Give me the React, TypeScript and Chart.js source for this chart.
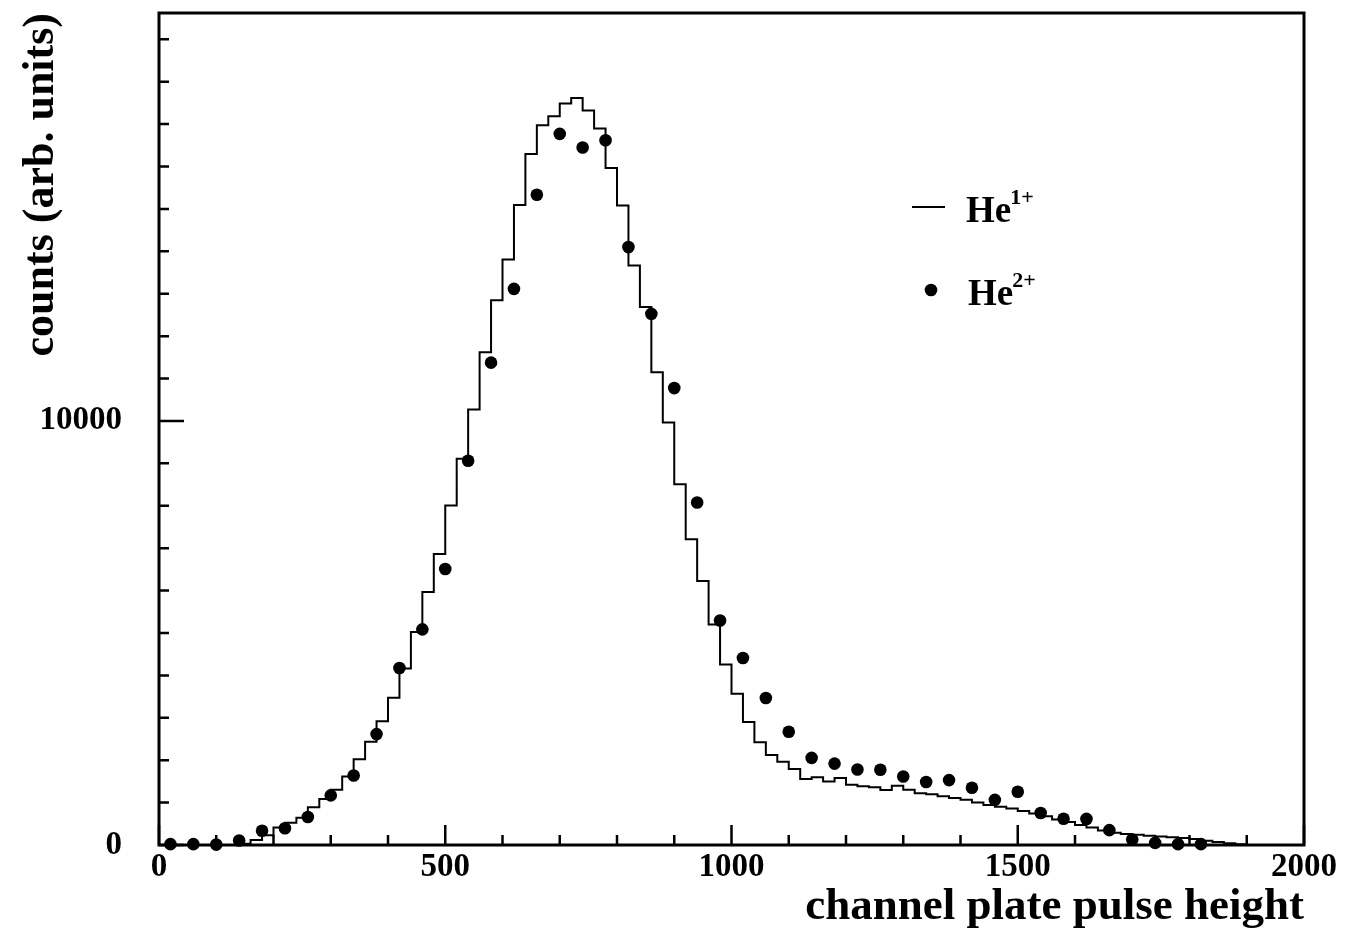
import React, { useEffect, useRef } from 'react';
import { Chart, registerables } from 'chart.js';

Chart.register(...registerables);

// ---- data ----
const BIN_WIDTH = 20; // He1+ histogram bin width (channels)
const he1Counts = [
  0, 0, 0, 0, 0, 0, 0, 30, 120, 230,
  410, 525, 640, 890, 1085, 1305, 1615, 2020, 2435, 2920,
  3470, 4160, 5020, 5965, 6865, 8005, 9110, 10270, 11620, 12845,
  13805, 15095, 16295, 16975, 17185, 17485, 17615, 17320, 16895, 15965,
  15080, 13665, 12685, 11150, 9965, 8510, 7210, 6225, 5200, 4255,
  3565, 2900, 2425, 2125, 1965, 1790, 1555, 1600, 1500, 1580,
  1420, 1385, 1360, 1295, 1395, 1300, 1220, 1195, 1150, 1110,
  1070, 1000, 945, 900, 860, 800, 740, 680, 600, 540,
  470, 410, 340, 290, 260, 240, 220, 200, 185, 165,
  140, 100, 70, 40, 15, 0, 0, 0, 0, 0,
];
const he2Channels = [
  20, 60, 100, 140, 180, 220, 260, 300, 340, 380,
  420, 460, 500, 540, 580, 620, 660, 700, 740, 780,
  820, 860, 900, 940, 980, 1020, 1060, 1100, 1140, 1180,
  1220, 1260, 1300, 1340, 1380, 1420, 1460, 1500, 1540, 1580,
  1620, 1660, 1700, 1740, 1780, 1820,
];
const he2Counts = [
  20, 20, 10, 105, 335, 395, 660, 1170, 1640, 2615,
  4175, 5085, 6510, 9060, 11375, 13115, 15335, 16770, 16450, 16620,
  14100, 12525, 10775, 8075, 5295, 4410, 3465, 2670, 2055, 1920,
  1780, 1775, 1615, 1485, 1530, 1350, 1065, 1255, 755, 620,
  615, 350, 130, 50, 20, 20,
];
const seriesNames = ['He', 'He'];
const seriesCharges = ['1+', '2+'];
const xTickValues = [
  0, 100, 200, 300, 400, 500, 600, 700, 800, 900, 1000,
  1100, 1200, 1300, 1400, 1500, 1600, 1700, 1800, 1900, 2000,
];
const yTickValues = [
  0, 1000, 2000, 3000, 4000, 5000, 6000, 7000, 8000, 9000, 10000,
  11000, 12000, 13000, 14000, 15000, 16000, 17000, 18000, 19000,
];
const xLabeledTicks = [0, 500, 1000, 1500, 2000];
const yLabeledTicks = [0, 10000];
const xTitle = 'channel plate pulse height';
const yTitle = 'counts (arb. units)';

const X_MIN = 0;
const X_MAX = 2000;
const Y_MIN = 0;
const Y_MAX = 19620;

const SERIF = "'Liberation Serif', 'Times New Roman', serif";

const framePlugin = {
  id: 'frameTicks',
  beforeDatasetsDraw(chart: any) {
    const { ctx, chartArea: a, scales } = chart;
    const xs = scales.x;
    const ys = scales.y;
    ctx.save();
    ctx.strokeStyle = '#000';
    ctx.lineWidth = 3;
    ctx.strokeRect(a.left, a.top, a.right - a.left, a.bottom - a.top);
    ctx.lineWidth = 2.5;
    ctx.beginPath();
    xs.ticks.forEach((t: any) => {
      const px = xs.getPixelForValue(t.value);
      const len = t.value % 500 === 0 ? 20 : 10;
      ctx.moveTo(px, a.bottom);
      ctx.lineTo(px, a.bottom - len);
    });
    ys.ticks.forEach((t: any) => {
      const py = ys.getPixelForValue(t.value);
      const len = t.value % 10000 === 0 ? 25 : 10;
      ctx.moveTo(a.left, py);
      ctx.lineTo(a.left + len, py);
    });
    ctx.stroke();
    ctx.restore();
  },
};

const legendPlugin = {
  id: 'supLegend',
  afterDraw(chart: any) {
    const { ctx, chartArea: a } = chart;
    ctx.save();
    ctx.fillStyle = '#000';
    ctx.strokeStyle = '#000';
    ctx.textBaseline = 'alphabetic';
    ctx.textAlign = 'left';
    [0, 1].forEach((i) => {
      const rowY = a.top + 194 + i * 83;
      const textX = a.left + 807 + i * 2;
      if (i === 0) {
        ctx.lineWidth = 2;
        ctx.beginPath();
        ctx.moveTo(a.left + 753, rowY);
        ctx.lineTo(a.left + 786, rowY);
        ctx.stroke();
      } else {
        ctx.beginPath();
        ctx.arc(a.left + 772, rowY, 6.3, 0, Math.PI * 2);
        ctx.fill();
      }
      ctx.font = `bold 37px ${SERIF}`;
      ctx.fillText(seriesNames[i], textX, rowY + 15);
      const w = ctx.measureText(seriesNames[i]).width;
      ctx.font = `bold 22px ${SERIF}`;
      ctx.fillText(seriesCharges[i], textX + w - 1, rowY - 3);
    });
    ctx.restore();
  },
};

export default function App() {
  const canvasRef = useRef<HTMLCanvasElement | null>(null);

  useEffect(() => {
    const canvas = canvasRef.current;
    if (!canvas) return;
    const histData = he1Counts.map((v, i) => ({ x: i * BIN_WIDTH, y: v }));
    histData.push({ x: he1Counts.length * BIN_WIDTH, y: 0 });
    const pointData = he2Channels.map((c, i) => ({ x: c, y: he2Counts[i] }));

    const chart = new Chart(canvas, {
      type: 'line',
      data: {
        datasets: [
          {
            label: 'He1+',
            data: histData,
            stepped: true,
            borderColor: '#000',
            borderWidth: 2,
            pointRadius: 0,
            fill: false,
          },
          {
            label: 'He2+',
            data: pointData,
            showLine: false,
            pointRadius: 6.3,
            pointBackgroundColor: '#000',
            pointBorderColor: '#000',
            pointBorderWidth: 0,
            clip: false,
          },
        ],
      },
      options: {
        animation: false,
        responsive: false,
        devicePixelRatio: 1,
        layout: { padding: { left: 0, right: 41, top: 13, bottom: 0 } },
        plugins: {
          legend: { display: false },
          tooltip: { enabled: false },
        },
        scales: {
          x: {
            type: 'linear',
            min: X_MIN,
            max: X_MAX,
            grid: { display: false, drawTicks: false },
            border: { display: false },
            afterBuildTicks: (scale: any) => {
              scale.ticks = xTickValues.map((v) => ({ value: v }));
            },
            ticks: {
              autoSkip: false,
              maxRotation: 0,
              padding: 3,
              color: '#000',
              font: { family: SERIF, weight: 'bold', size: 33 },
              callback: (v: any) => (xLabeledTicks.includes(Number(v)) ? String(v) : ''),
            },
            title: {
              display: true,
              text: xTitle,
              align: 'end',
              color: '#000',
              padding: { top: 0, bottom: 0 },
              font: { family: SERIF, weight: 'bold', size: 45 },
            },
            afterFit: (scale: any) => {
              scale.height = 89;
              scale.paddingLeft = 0;
              scale.paddingRight = 0;
            },
          },
          y: {
            type: 'linear',
            min: Y_MIN,
            max: Y_MAX,
            grid: { display: false, drawTicks: false },
            border: { display: false },
            afterBuildTicks: (scale: any) => {
              scale.ticks = yTickValues.map((v) => ({ value: v }));
            },
            ticks: {
              autoSkip: false,
              padding: 37,
              color: '#000',
              font: { family: SERIF, weight: 'bold', size: 33 },
              callback: (v: any) => (yLabeledTicks.includes(Number(v)) ? String(v) : ''),
            },
            title: {
              display: true,
              text: yTitle,
              align: 'end',
              color: '#000',
              padding: { top: 15, bottom: 0 },
              font: { family: SERIF, weight: 'bold', size: 44 },
            },
            afterFit: (scale: any) => {
              scale.width = 159;
              scale.paddingTop = 0;
              scale.paddingBottom = 0;
            },
          },
        },
      },
      plugins: [framePlugin, legendPlugin],
    });
    return () => chart.destroy();
  }, []);

  return (
    <div style={{ position: 'absolute', left: 0, top: 0, width: 1345, height: 934, background: '#fff' }}>
      <canvas ref={canvasRef} width={1345} height={934} />
    </div>
  );
}
